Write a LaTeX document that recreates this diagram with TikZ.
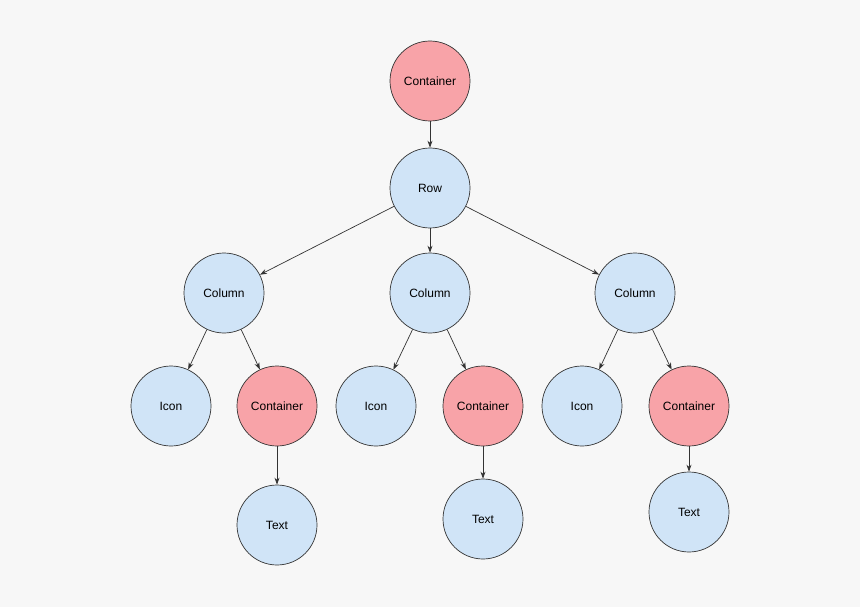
\documentclass[tikz,border=0pt]{standalone}
\usepackage{fontspec}
\setmainfont{Liberation Sans}
\usetikzlibrary{arrows.meta}
\definecolor{bg}{HTML}{F7F7F7}
\definecolor{redfill}{HTML}{F8A3A8}
\definecolor{bluefill}{HTML}{D0E4F7}
\definecolor{edge}{HTML}{333333}
\tikzset{
  nd/.style={circle, draw=edge, line width=0.7pt, minimum size=80pt, inner sep=0pt, font=\fontsize{12}{14}\selectfont},
  rednode/.style={nd, fill=redfill},
  bluenode/.style={nd, fill=bluefill},
  conn/.style={draw=edge, line width=0.7pt, -{Stealth[length=7pt,width=5pt]}}
}
\begin{document}
\begin{tikzpicture}[x=1pt,y=-1pt]
\fill[bg] (0,0) rectangle (860,607);
\useasboundingbox (0,0) rectangle (860,607);
\node[rednode] (top) at (430,81) {Container};
\node[bluenode] (row) at (430,188) {Row};
\node[bluenode] (col1) at (224,293) {Column};
\node[bluenode] (col2) at (430,293) {Column};
\node[bluenode] (col3) at (635,293) {Column};
\node[bluenode] (icon1) at (171,406) {Icon};
\node[rednode] (cont1) at (277,406) {Container};
\node[bluenode] (icon2) at (376,406) {Icon};
\node[rednode] (cont2) at (483,406) {Container};
\node[bluenode] (icon3) at (582,406) {Icon};
\node[rednode] (cont3) at (689,406) {Container};
\node[bluenode] (text1) at (277,525) {Text};
\node[bluenode] (text2) at (483,519) {Text};
\node[bluenode] (text3) at (689,512) {Text};
\draw[conn] (top) -- (row);
\draw[conn] (row) -- (col1);
\draw[conn] (row) -- (col2);
\draw[conn] (row) -- (col3);
\draw[conn] (col1) -- (icon1);
\draw[conn] (col1) -- (cont1);
\draw[conn] (col2) -- (icon2);
\draw[conn] (col2) -- (cont2);
\draw[conn] (col3) -- (icon3);
\draw[conn] (col3) -- (cont3);
\draw[conn] (cont1) -- (text1);
\draw[conn] (cont2) -- (text2);
\draw[conn] (cont3) -- (text3);
\end{tikzpicture}
\end{document}
